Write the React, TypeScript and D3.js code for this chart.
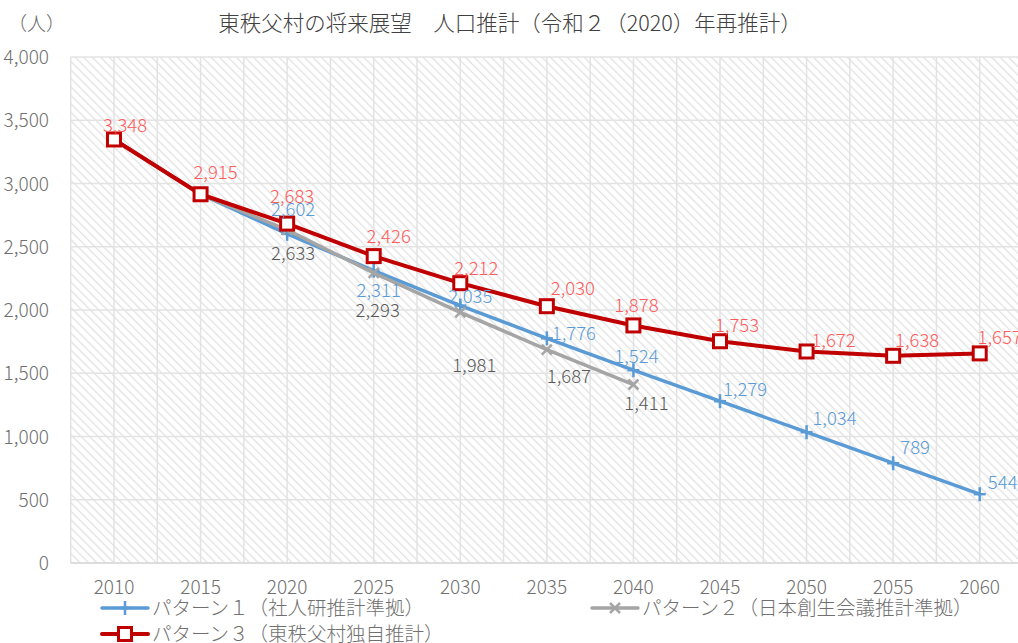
import React from "react";
import * as d3 from "d3";

const years = ["2010", "2015", "2020", "2025", "2030", "2035", "2040", "2045", "2050", "2055", "2060"];
const pattern1 = [3348, 2915, 2602, 2311, 2035, 1776, 1524, 1279, 1034, 789, 544];
const pattern2 = [3348, 2915, 2633, 2293, 1981, 1687, 1411];
const pattern3 = [3348, 2915, 2683, 2426, 2212, 2030, 1878, 1753, 1672, 1638, 1657];
const yTicks = [0, 500, 1000, 1500, 2000, 2500, 3000, 3500, 4000];

const W = 1018;
const H = 643;
const MARGIN = { top: 57, left: 70.7, right: 1023, bottom: 563 };
const FONT = "'Noto Sans CJK JP', 'Noto Sans', sans-serif";

// label placement per series (dx, dy relative to point); first points hidden for 1 and 2
const SERIES = [
  {
    key: "p1",
    name: "パターン１（社人研推計準拠）",
    values: pattern1,
    color: "#5B9BD5",
    labelColor: "#5B9BD5",
    width: 3.5,
    marker: "plus",
    skipLabels: 2,
    offsets: [[0, 0], [0, 0], [6, -18], [5, 26], [10, -3], [27, 2], [3, -7], [25, -5], [28, -7], [22, -9], [23, -5]],
  },
  {
    key: "p2",
    name: "パターン２（日本創生会議推計準拠）",
    values: pattern2,
    color: "#A5A5A5",
    labelColor: "#595959",
    width: 3.5,
    marker: "cross",
    skipLabels: 2,
    offsets: [[0, 0], [0, 0], [6, 30], [4, 44], [14, 60], [22, 33], [13, 25]],
  },
  {
    key: "p3",
    name: "パターン３（東秩父村独自推計）",
    values: pattern3,
    color: "#C00000",
    labelColor: "#FF5B5B",
    width: 4,
    marker: "square",
    skipLabels: 0,
    offsets: [[11, -7], [15, -15], [5, -21], [15, -13], [16, -8], [26, -11], [3, -13], [17, -9], [27, -4], [24, -9], [20, -9]],
  },
];

const Marker = ({ type, x, y, color }: { type: string; x: number; y: number; color: string }) => {
  if (type === "square") {
    return <rect x={x - 6.5} y={y - 6.5} width={13} height={13} fill="#fff" stroke={color} strokeWidth={3} />;
  }
  if (type === "plus") {
    return (
      <g stroke={color} strokeWidth={2.5}>
        <line x1={x - 6} x2={x + 6} y1={y} y2={y} />
        <line x1={x} x2={x} y1={y - 7} y2={y + 7} />
      </g>
    );
  }
  return (
    <g stroke={color} strokeWidth={2.5}>
      <line x1={x - 5} x2={x + 5} y1={y - 5} y2={y + 5} />
      <line x1={x - 5} x2={x + 5} y1={y + 5} y2={y - 5} />
    </g>
  );
};

const App = () => {
  const xScale = d3.scaleBand().domain(years).range([MARGIN.left, MARGIN.right]);
  const yScale = d3.scaleLinear().domain([0, 4000]).range([MARGIN.bottom, MARGIN.top]);
  const cx = (i: number) => (xScale(years[i]) as number) + xScale.bandwidth() / 2;

  const line = d3
    .line<number>()
    .x((_, i) => cx(i))
    .y((d) => yScale(d));

  const vLines: number[] = [];
  years.forEach((y) => {
    const x0 = xScale(y) as number;
    vLines.push(x0, x0 + xScale.bandwidth() / 2);
  });
  vLines.push(MARGIN.right);

  const legendItems = [
    { s: SERIES[0], x: 100, y: 608 },
    { s: SERIES[1], x: 590, y: 608 },
    { s: SERIES[2], x: 100, y: 634 },
  ];

  return (
    <svg width={W} height={H} style={{ position: "absolute", left: 0, top: 0, background: "#fff" }} fontFamily={FONT}>
      <defs>
        <pattern id="hatch" width={6} height={6} patternUnits="userSpaceOnUse" patternTransform="rotate(-45)">
          <rect width={6} height={6} fill="#fff" />
          <line x1={0} y1={0} x2={0} y2={6} stroke="#e2e2e2" strokeWidth={2.6} />
        </pattern>
      </defs>

      <text x={8} y={31} fontSize={19} fill="#666" fontWeight={300}>（人）</text>
      <text x={510} y={31} fontSize={21.5} fill="#404040" textAnchor="middle" fontWeight={300}>
        東秩父村の将来展望　人口推計（令和２（2020）年再推計）
      </text>

      <rect x={MARGIN.left} y={MARGIN.top} width={MARGIN.right - MARGIN.left} height={MARGIN.bottom - MARGIN.top} fill="url(#hatch)" />

      {yTicks.map((t) => (
        <g key={t}>
          <line x1={MARGIN.left} x2={MARGIN.right} y1={yScale(t)} y2={yScale(t)} stroke="#e3e3e3" strokeWidth={1.5} />
          <text x={49} y={yScale(t) + 7} fontSize={19} fill="#707070" textAnchor="end" fontWeight={300}>
            {d3.format(",")(t)}
          </text>
        </g>
      ))}
      {vLines.map((x, i) => (
        <line key={i} x1={x} x2={x} y1={MARGIN.top} y2={MARGIN.bottom} stroke="#e3e3e3" strokeWidth={1.5} />
      ))}
      <line x1={MARGIN.left} x2={MARGIN.right} y1={MARGIN.bottom} y2={MARGIN.bottom} stroke="#d9d9d9" strokeWidth={1.5} />

      {years.map((y, i) => (
        <text key={y} x={cx(i)} y={594} fontSize={19} fill="#707070" textAnchor="middle" fontWeight={300}>
          {y}
        </text>
      ))}

      {SERIES.map((s) => (
        <g key={s.key}>
          <path d={line(s.values) || ""} fill="none" stroke={s.color} strokeWidth={s.width} strokeLinejoin="round" />
          {s.values.map((v, i) => (
            <Marker key={i} type={s.marker} x={cx(i)} y={yScale(v)} color={s.color} />
          ))}
        </g>
      ))}

      {SERIES.map((s) => (
        <g key={s.key + "l"}>
          {s.values.map((v, i) =>
            i < s.skipLabels ? null : (
              <text
                key={i}
                x={cx(i) + s.offsets[i][0]}
                y={yScale(v) + s.offsets[i][1]}
                fontSize={18.5}
                fill={s.labelColor}
                textAnchor="middle"
                fontWeight={300}
              >
                {d3.format(",")(v)}
              </text>
            )
          )}
        </g>
      ))}

      {legendItems.map(({ s, x, y }) => (
        <g key={s.key + "leg"}>
          <line x1={x + 2} x2={x + 48} y1={y} y2={y} stroke={s.color} strokeWidth={s.width} strokeLinecap="round" />
          <Marker type={s.marker} x={x + 25} y={y} color={s.color} />
          <text x={x + 52} y={y + 7} fontSize={19.5} fill="#707070" fontWeight={300}>
            {s.name}
          </text>
        </g>
      ))}
    </svg>
  );
};

export default App;
